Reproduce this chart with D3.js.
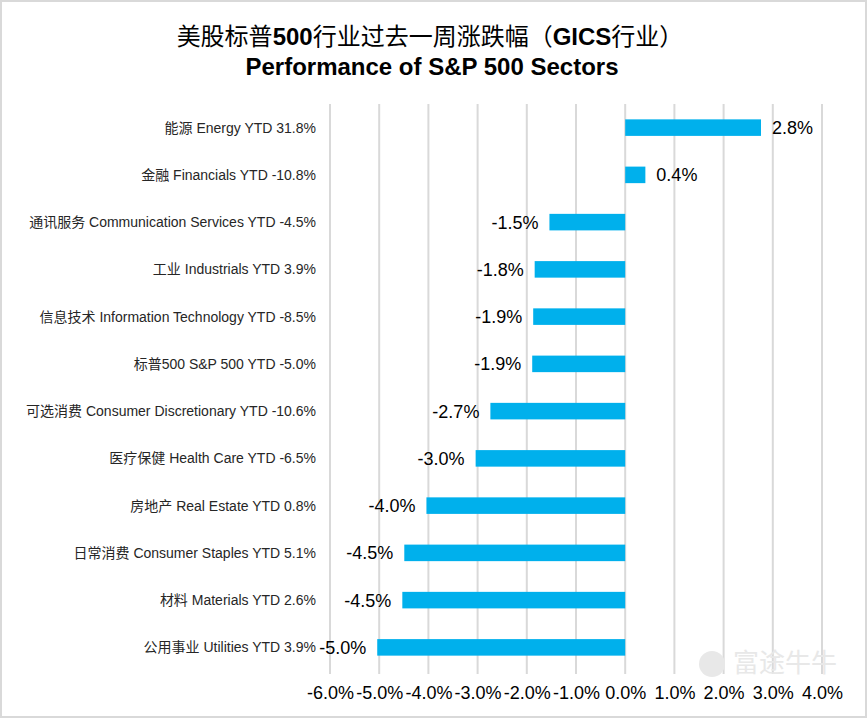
<!DOCTYPE html>
<html>
<head>
<meta charset="utf-8">
<script src="https://cdn.jsdelivr.net/npm/d3@7"></script>
<style>
  body { margin: 0; background: #fff; }
  svg { display: block; }
  text { font-family: Arial, "Liberation Sans", "Noto Sans CJK SC", sans-serif; }
</style>
</head>
<body>
<div id="root"></div>
<script>
const categories = [
  "能源 Energy YTD 31.8%",
  "金融 Financials YTD -10.8%",
  "通讯服务 Communication Services YTD -4.5%",
  "工业 Industrials YTD 3.9%",
  "信息技术 Information Technology YTD -8.5%",
  "标普500 S&P 500 YTD -5.0%",
  "可选消费 Consumer Discretionary YTD -10.6%",
  "医疗保健 Health Care YTD -6.5%",
  "房地产 Real Estate YTD 0.8%",
  "日常消费 Consumer Staples YTD 5.1%",
  "材料 Materials YTD 2.6%",
  "公用事业 Utilities YTD 3.9%"
];
// weekly change, %
const weekly = [2.76, 0.41, -1.54, -1.84, -1.87, -1.89, -2.74, -3.04, -4.04, -4.49, -4.53, -5.04];
const ticks = [-6, -5, -4, -3, -2, -1, 0, 1, 2, 3, 4];

const width = 867, height = 718;

// plain hyphen instead of d3's unicode minus
const pct = d => d.toFixed(1) + "%";

const svg = d3.select("#root").append("svg")
  .attr("width", width)
  .attr("height", height);

// outer border
svg.append("rect")
  .attr("x", 1).attr("y", 1)
  .attr("width", width - 2).attr("height", height - 2)
  .attr("fill", "#fff")
  .attr("stroke", "#d9d9d9")
  .attr("stroke-width", 2);

const x = d3.scaleLinear().domain([-6, 4]).range([330, 822]);
const y = d3.scaleBand().domain(categories).range([104, 671]).paddingInner(0.65).paddingOuter(0.325);

// grid
svg.append("g")
  .selectAll("line")
  .data(ticks)
  .enter()
  .append("line")
  .attr("x1", d => x(d)).attr("x2", d => x(d))
  .attr("y1", 104).attr("y2", 674)
  .attr("stroke", "#d9d9d9")
  .attr("stroke-width", 2);

// watermark
const wm = svg.append("g");
wm.append("circle").attr("cx", 712).attr("cy", 664).attr("r", 13).attr("fill", "#e8e8e8");
wm.append("text")
  .attr("x", 733).attr("y", 672)
  .attr("fill", "#e8e8e8")
  .style("font-family", "'Noto Sans CJK SC', sans-serif")
  .style("font-size", "26px")
  .text("富途牛牛");

// bars
svg.append("g")
  .selectAll("rect")
  .data(weekly)
  .enter()
  .append("rect")
  .attr("x", d => x(Math.min(0, d)))
  .attr("y", (d, i) => y(categories[i]))
  .attr("width", d => Math.abs(x(d) - x(0)))
  .attr("height", y.bandwidth())
  .attr("fill", "#00b0ec");

// value labels
svg.append("g")
  .selectAll("text")
  .data(weekly)
  .enter()
  .append("text")
  .attr("x", d => d >= 0 ? x(d) + 11 : x(d) - 11)
  .attr("y", (d, i) => y(categories[i]) + y.bandwidth() / 2)
  .attr("dy", "0.36em")
  .attr("text-anchor", d => d >= 0 ? "start" : "end")
  .style("font-size", "18px")
  .attr("fill", "#000")
  .text(pct);

// category labels
svg.append("g")
  .selectAll("text")
  .data(categories)
  .enter()
  .append("text")
  .attr("x", 316)
  .attr("y", d => y(d) + y.bandwidth() / 2)
  .attr("dy", "0.36em")
  .attr("text-anchor", "end")
  .style("font-size", "14px")
  .attr("fill", "#262626")
  .text(d => d);

// x axis
const axis = svg.append("g")
  .attr("transform", "translate(0,674)")
  .call(d3.axisBottom(x).tickValues(ticks).tickSize(0).tickPadding(12).tickFormat(pct));
axis.select(".domain").remove();
axis.selectAll("text")
  .style("font-size", "18px")
  .style("font-family", "Arial, 'Liberation Sans', sans-serif")
  .attr("fill", "#000");

// titles
const t1 = svg.append("text")
  .attr("x", 430).attr("y", 45)
  .attr("text-anchor", "middle")
  .style("font-size", "24px")
  .attr("fill", "#000");
const parts = [["美股标普", false], ["500", true], ["行业过去一周涨跌幅（", false], ["GICS", true], ["行业）", false]];
parts.forEach(p => {
  t1.append("tspan")
    .style("font-weight", p[1] ? "bold" : "normal")
    .style("font-family", p[1] ? "Arial, 'Liberation Sans', sans-serif" : "'Noto Sans CJK SC', sans-serif")
    .text(p[0]);
});

svg.append("text")
  .attr("x", 432).attr("y", 75)
  .attr("text-anchor", "middle")
  .style("font-size", "24px")
  .style("font-weight", "bold")
  .attr("fill", "#000")
  .text("Performance of S&P 500 Sectors");
</script>
</body>
</html>
